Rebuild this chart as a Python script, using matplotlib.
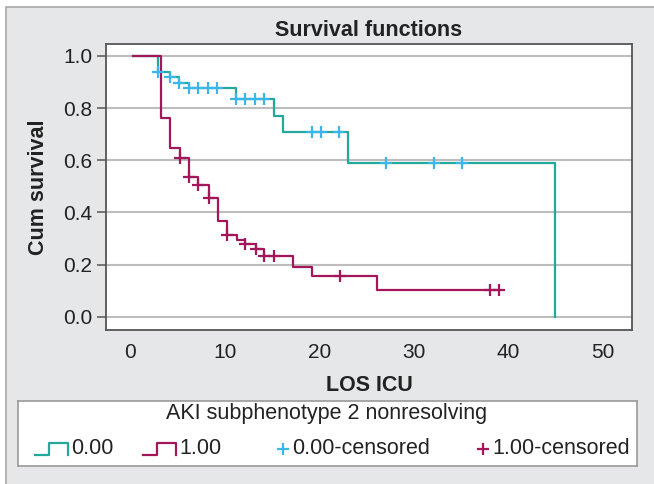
import numpy as np
import matplotlib
matplotlib.use("Agg")
from matplotlib import pyplot as plt
from matplotlib.patches import Rectangle

plt.rcParams['font.family'] = ['Liberation Sans', 'DejaVu Sans']

# group 0.00: step times and survival after each step
t0 = [0.3, 3.0, 4.2, 5.2, 6.2, 11.2, 15.2, 16.2, 23.1, 45.0]
s0 = [1.0, 0.940, 0.918, 0.897, 0.876, 0.835, 0.770, 0.709, 0.591, 0.0]
c0 = [3.0, 4.2, 5.2, 6.2, 7.2, 8.2, 9.2, 11.2, 12.2, 13.2, 14.2,
      19.2, 20.2, 22.1, 27.1, 32.1, 35.1]

# group 1.00
t1 = [0.3, 3.3, 4.2, 5.3, 6.2, 7.2, 8.3, 9.3, 10.3, 11.3, 12.2, 13.3,
      14.2, 17.2, 19.2, 26.1, 39.0]
s1 = [1.0, 0.763, 0.648, 0.610, 0.537, 0.505, 0.454, 0.367, 0.315, 0.295,
      0.277, 0.258, 0.232, 0.191, 0.155, 0.104, 0.104]
c1 = [5.3, 6.2, 7.2, 8.3, 10.3, 12.2, 13.3, 14.2, 15.2, 22.2, 38.1, 39.0]

teal = '#22a99a'
cyan = '#3ab7e8'
red = '#a3175a'
txt = '#222222'


def level(times, surv, c):
    idx = np.searchsorted(times, c, side='right') - 1
    return np.array(surv)[idx]


fig = plt.figure(figsize=(6.54, 4.84), dpi=100)
fig.patch.set_facecolor('white')
fig.patches.append(Rectangle((6 / 654, -0.1), 1.2, 1 - 7 / 484 + 0.1,
                             transform=fig.transFigure, facecolor='#e6e7e9',
                             edgecolor='#a8a8a8', lw=1.2, zorder=-10))

ax = fig.add_axes([106 / 654, 1 - 330 / 484, 526 / 654, 286 / 484])
ax.set_facecolor('white')
ax.set_xlim(-2.55, 53.1)
ax.set_ylim(-0.051, 1.046)
ax.set_yticks(np.arange(0, 1.01, 0.2))
ax.set_xticks([0, 10, 20, 30, 40, 50])
ax.yaxis.set_major_formatter(matplotlib.ticker.FormatStrFormatter('%.1f'))
ax.grid(axis='y', color='#bdbdbd', lw=1.5)
ax.set_axisbelow(True)
for sp in ax.spines.values():
    sp.set_color('#555555')
    sp.set_linewidth(1.3)
ax.tick_params(axis='both', labelsize=15, labelcolor=txt, length=6.5,
               width=1.1, pad=3.5, color='#555555')
ax.tick_params(axis='x', length=0, pad=9)

ax.step(t0, s0, where='post', color=teal, lw=1.6, zorder=3)
ax.step(t1, s1, where='post', color=red, lw=1.6, zorder=4)
ax.plot(c0, level(t0, s0, c0), ls='none', marker='+', ms=8, mew=1.6,
        color=cyan, zorder=5)
ax.plot(c1, level(t1, s1, c1), ls='none', marker='+', ms=8, mew=1.6,
        color=red, zorder=5)

ax.set_title('Survival functions', fontsize=15.5, fontweight='bold', pad=6,
             color=txt)
ax.set_ylabel('Cum survival', fontsize=15.5, fontweight='bold', labelpad=10,
              color=txt)
ax.set_xlabel('LOS ICU', fontsize=15.5, fontweight='bold', labelpad=10,
              color=txt)

# legend box
lg = fig.add_axes([18 / 654, 1 - 466 / 484, 619 / 654, 65 / 484])
lg.set_xlim(0, 619)
lg.set_ylim(65, 0)
lg.set_xticks([])
lg.set_yticks([])
for sp in lg.spines.values():
    sp.set_color('#9a9a9a')
    sp.set_linewidth(1.2)
lg.text(309, 12, 'AKI subphenotype 2 nonresolving', ha='center', va='center',
        fontsize=15.5, color=txt)
ey = 48
for x0, col, lab in [(17, teal, '0.00'), (125, red, '1.00')]:
    lg.plot([x0, x0 + 14, x0 + 14, x0 + 33, x0 + 33],
            [ey + 6, ey + 6, ey - 6, ey - 6, ey + 6], color=col, lw=1.6)
    lg.text(x0 + 36, ey, lab, va='center', fontsize=15.5, color=txt)
for x0, col, lab in [(265, cyan, '0.00-censored'), (465, red, '1.00-censored')]:
    lg.plot([x0], [ey], marker='+', ms=9, mew=1.6, color=col)
    lg.text(x0 + 9, ey, lab, va='center', fontsize=15.5, color=txt)

fig.savefig('out.png', dpi=100)
